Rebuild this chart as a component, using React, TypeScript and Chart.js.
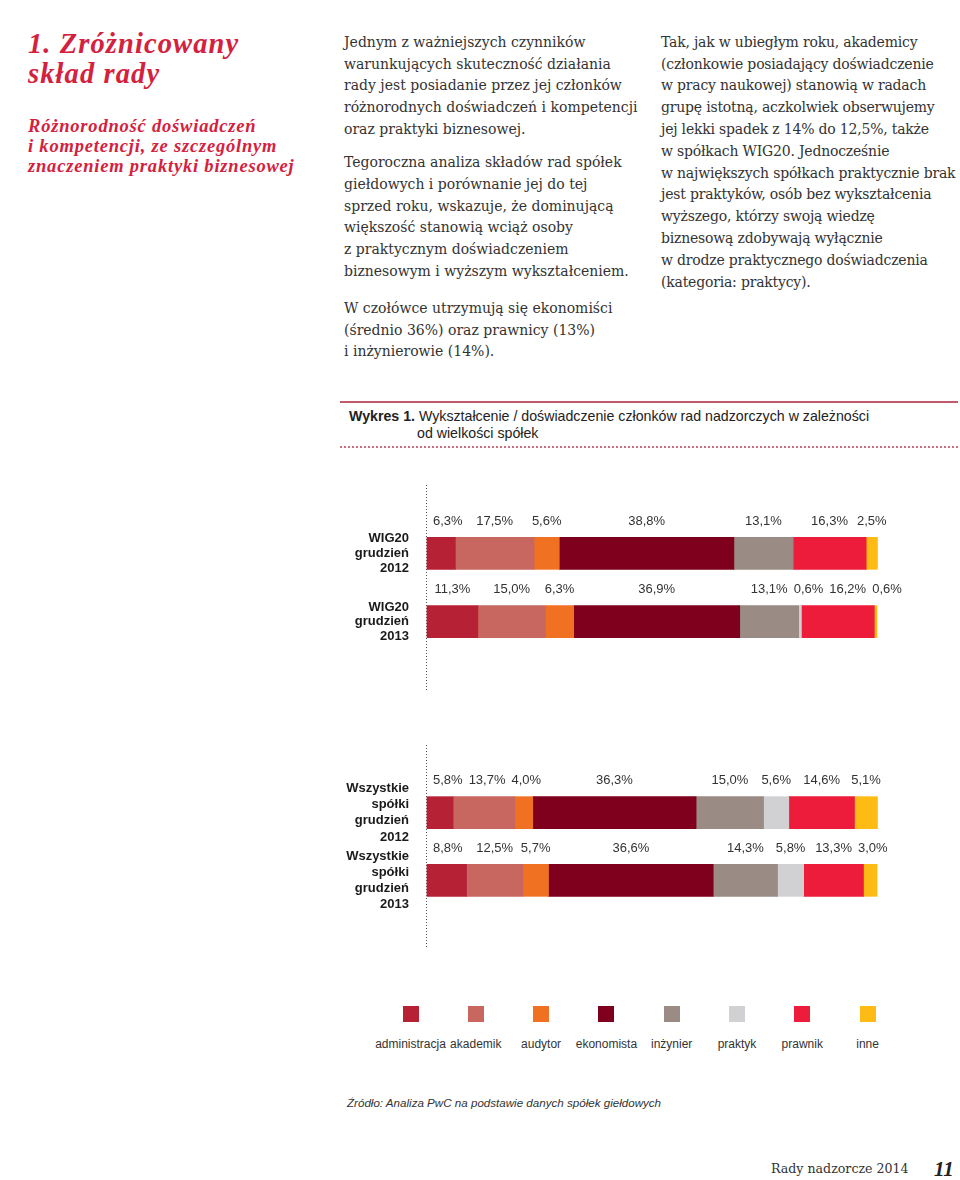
import React, { useEffect, useRef } from 'react';
import { Chart, registerables } from 'chart.js';

Chart.register(...registerables);

// ---------- data ----------
const categories = ['administracja', 'akademik', 'audytor', 'ekonomista', 'inżynier', 'praktyk', 'prawnik', 'inne'];
const colors = ['#b72136', '#c86660', '#f07122', '#7e001c', '#9a8c85', '#d1d1d3', '#ec1c3a', '#fdbb14'];

const wig20Labels = [['WIG20', 'grudzień', '2012'], ['WIG20', 'grudzień', '2013']];
const wig20_2012 = [6.3, 17.5, 5.6, 38.8, 13.1, 0, 16.3, 2.5];
const wig20_2013 = [11.3, 15.0, 6.3, 36.9, 13.1, 0.6, 16.2, 0.6];

const allLabels = [['Wszystkie', 'spółki', 'grudzień', '2012'], ['Wszystkie', 'spółki', 'grudzień', '2013']];
const all_2012 = [5.8, 13.7, 4.0, 36.3, 15.0, 5.6, 14.6, 5.1];
const all_2013 = [8.8, 12.5, 5.7, 36.6, 14.3, 5.8, 13.3, 3.0];

const col1Para1 = [
  'Jednym z ważniejszych czynników',
  'warunkujących skuteczność działania',
  'rady jest posiadanie przez jej członków',
  'różnorodnych doświadczeń i kompetencji',
  'oraz praktyki biznesowej.',
];
const col1Para2 = [
  'Tegoroczna analiza składów rad spółek',
  'giełdowych i porównanie jej do tej',
  'sprzed roku, wskazuje, że dominującą',
  'większość stanowią wciąż osoby',
  'z praktycznym doświadczeniem',
  'biznesowym i wyższym wykształceniem.',
];
const col1Para3 = [
  'W czołówce utrzymują się ekonomiści',
  '(średnio 36%) oraz prawnicy (13%)',
  'i inżynierowie (14%).',
];
const col2Para = [
  'Tak, jak w ubiegłym roku, akademicy',
  '(członkowie posiadający doświadczenie',
  'w pracy naukowej) stanowią w radach',
  'grupę istotną, aczkolwiek obserwujemy',
  'jej lekki spadek z 14% do 12,5%, także',
  'w spółkach WIG20. Jednocześnie',
  'w największych spółkach praktycznie brak',
  'jest praktyków, osób bez wykształcenia',
  'wyższego, którzy swoją wiedzę',
  'biznesową zdobywają wyłącznie',
  'w drodze praktycznego doświadczenia',
  '(kategoria: praktycy).',
];

const SANS = '"Liberation Sans", Arial, Helvetica, sans-serif';
const SERIF = '"DejaVu Serif", Georgia, serif';
const TITLE_SERIF = '"Liberation Serif", "Times New Roman", serif';
const RED = '#d4213d';

// ---------- plugin: dotted axis line ----------
const dottedAxisPlugin = {
  id: 'dottedAxis',
  beforeDatasetsDraw(chart: any) {
    const { ctx, chartArea } = chart;
    const x = Math.round(chart.scales.x.getPixelForValue(0)) - 0.5;
    ctx.save();
    ctx.strokeStyle = '#555';
    ctx.lineWidth = 1;
    ctx.setLineDash([1, 2]);
    ctx.beginPath();
    ctx.moveTo(x, chartArea.top);
    ctx.lineTo(x, chartArea.bottom);
    ctx.stroke();
    ctx.restore();
  },
};

// ---------- plugin: value labels above segments ----------
const barLabelPlugin = {
  id: 'barLabels',
  afterDatasetsDraw(chart: any) {
    const ctx = chart.ctx;
    ctx.save();
    ctx.font = '13px ' + SANS;
    ctx.fillStyle = '#333';
    ctx.textBaseline = 'middle';
    ctx.textAlign = 'left';
    const n = chart.data.labels.length;
    for (let r = 0; r < n; r++) {
      let prevRight = -Infinity;
      let barStart: number | null = null;
      chart.data.datasets.forEach((ds: any, di: number) => {
        const v = ds.data[r];
        if (v == null) return;
        const el = chart.getDatasetMeta(di).data[r];
        if (!el) return;
        const x0 = Math.min(el.x, el.base);
        const x1 = Math.max(el.x, el.base);
        if (barStart === null) barStart = x0;
        if (v === 0) return;
        const text = v.toFixed(1).replace('.', ',') + '%';
        const w = ctx.measureText(text).width;
        let left = (x0 + x1) / 2 - w / 2;
        left = Math.max(left, (barStart as number) + 6, prevRight + 6);
        ctx.fillText(text, left, el.y - el.height / 2 - 16);
        prevRight = left + w;
      });
    }
    ctx.restore();
  },
};

function StackedBars(props: { rowLabels: string[][]; rows: number[][]; left: number; top: number; width: number; height: number; padTop: number; padBottom: number; lineHeight: number }) {
  const ref = useRef<HTMLCanvasElement | null>(null);
  useEffect(() => {
    if (!ref.current) return;
    const labels: any[] = [[''], ...props.rowLabels, ['']];
    const chart = new Chart(ref.current, {
      type: 'bar',
      data: {
        labels,
        datasets: categories.map((c, i) => ({
          label: c,
          data: [null, props.rows[0][i], props.rows[1][i], null],
          backgroundColor: colors[i],
          borderWidth: 0,
          barThickness: 32,
          clip: false as any,
        })),
      },
      options: {
        indexAxis: 'y',
        responsive: false,
        maintainAspectRatio: false,
        animation: false,
        layout: { padding: { top: props.padTop, bottom: props.padBottom, left: 0, right: 83 } },
        plugins: { legend: { display: false }, tooltip: { enabled: false } },
        scales: {
          x: { stacked: true, min: 0, max: 100, display: false },
          y: {
            stacked: true,
            offset: false,
            grid: { display: false },
            border: { display: false },
            ticks: {
              autoSkip: false,
              padding: 10,
              color: '#1a1a1a',
              font: { family: SANS, weight: 'bold', size: 13, lineHeight: props.lineHeight },
            },
            afterFit: (s: any) => {
              s.width = 97;
              s.paddingTop = 0;
              s.paddingBottom = 0;
            },
          },
        },
      } as any,
      plugins: [dottedAxisPlugin, barLabelPlugin],
    });
    return () => chart.destroy();
  }, []);
  return (
    <canvas
      ref={ref}
      width={props.width}
      height={props.height}
      style={{ position: 'absolute', left: props.left, top: props.top, width: props.width, height: props.height, display: 'block' }}
    />
  );
}

function Lines(props: { x: number; baseline: number; lh: number; fs: number; family: string; k: number; lines: string[]; color?: string; style?: any }) {
  const top = props.baseline - (props.lh / 2 + props.k * props.fs);
  return (
    <div
      style={{
        position: 'absolute',
        left: props.x,
        top,
        fontFamily: props.family,
        fontSize: props.fs,
        lineHeight: props.lh + 'px',
        color: props.color || '#333',
        whiteSpace: 'pre',
        ...(props.style || {}),
      }}
    >
      {props.lines.map((l, i) => (
        <div key={i}>{l}</div>
      ))}
    </div>
  );
}

export default function App() {
  useEffect(() => {
    document.body.style.margin = '0';
  }, []);
  const legendStart = 410.5;
  const legendStep = 65.3;
  return (
    <div style={{ position: 'absolute', left: 0, top: 0, width: 960, height: 1180, background: '#fff', overflow: 'hidden' }}>
      {/* title */}
      <Lines x={28} baseline={54} lh={30} fs={28.5} family={TITLE_SERIF} k={0.3375} color={RED}
        lines={['1. Zróżnicowany', 'skład rady']} style={{ fontWeight: 'bold', fontStyle: 'italic', letterSpacing: '1.1px' }} />
      <Lines x={28} baseline={132} lh={20} fs={18.5} family={TITLE_SERIF} k={0.3375} color={RED}
        lines={['Różnorodność doświadczeń', 'i kompetencji, ze szczególnym', 'znaczeniem praktyki biznesowej']}
        style={{ fontWeight: 'bold', fontStyle: 'italic', letterSpacing: '0.8px' }} />

      {/* body text */}
      <Lines x={344} baseline={47.5} lh={21.7} fs={14} family={SERIF} k={0.346} lines={col1Para1} />
      <Lines x={344} baseline={168} lh={21.7} fs={14} family={SERIF} k={0.346} lines={col1Para2} />
      <Lines x={344} baseline={313.5} lh={21.7} fs={14} family={SERIF} k={0.346} lines={col1Para3} />
      <Lines x={661} baseline={47.5} lh={21.8} fs={14} family={SERIF} k={0.346} lines={col2Para} style={{ letterSpacing: '-0.2px' }} />

      {/* caption */}
      <div style={{ position: 'absolute', left: 340, top: 401, width: 618, height: 2, background: '#c25a6b' }} />
      <div style={{ position: 'absolute', left: 349, top: 421 - (8.5 + 0.3465 * 14.2), fontFamily: SANS, fontSize: 14.2, lineHeight: '17px', color: '#222', whiteSpace: 'pre' }}>
        <div><b>Wykres 1.</b> Wykształcenie / doświadczenie członków rad nadzorczych w zależności</div>
        <div style={{ paddingLeft: 68 }}>od wielkości spółek</div>
      </div>
      <div style={{ position: 'absolute', left: 340, top: 446, width: 618, height: 0, borderTop: '2px dotted #cf6f7e' }} />

      {/* charts */}
      <StackedBars rowLabels={wig20Labels} rows={[wig20_2012, wig20_2013]} left={330} top={470} width={630} height={240} padTop={15} padBottom={20} lineHeight={1.13} />
      <StackedBars rowLabels={allLabels} rows={[all_2012, all_2013]} left={330} top={730} width={630} height={240} padTop={15} padBottom={22} lineHeight={1.25} />

      {/* legend */}
      {categories.map((c, i) => {
        const cx = legendStart + i * legendStep;
        return (
          <React.Fragment key={c}>
            <div style={{ position: 'absolute', left: cx - 8, top: 1006, width: 16, height: 16, background: colors[i] }} />
            <div style={{ position: 'absolute', left: cx - 40, width: 80, top: 1036, textAlign: 'center', fontFamily: SANS, fontSize: 12, lineHeight: '16px', color: '#333' }}>{c}</div>
          </React.Fragment>
        );
      })}

      {/* source */}
      <div style={{ position: 'absolute', left: 347, top: 1095, fontFamily: SANS, fontSize: 11.6, lineHeight: '16px', fontStyle: 'italic', color: '#333', whiteSpace: 'pre' }}>
        Źródło: Analiza PwC na podstawie danych spółek giełdowych
      </div>

      {/* footer */}
      <div style={{ position: 'absolute', left: 771, top: 1160, fontFamily: SERIF, fontSize: 12.6, lineHeight: '18px', color: '#333', whiteSpace: 'pre' }}>Rady nadzorcze 2014</div>
      <div style={{ position: 'absolute', left: 934, top: 1157, fontFamily: TITLE_SERIF, fontSize: 21, lineHeight: '24px', fontWeight: 'bold', fontStyle: 'italic', color: '#222' }}>11</div>
    </div>
  );
}
